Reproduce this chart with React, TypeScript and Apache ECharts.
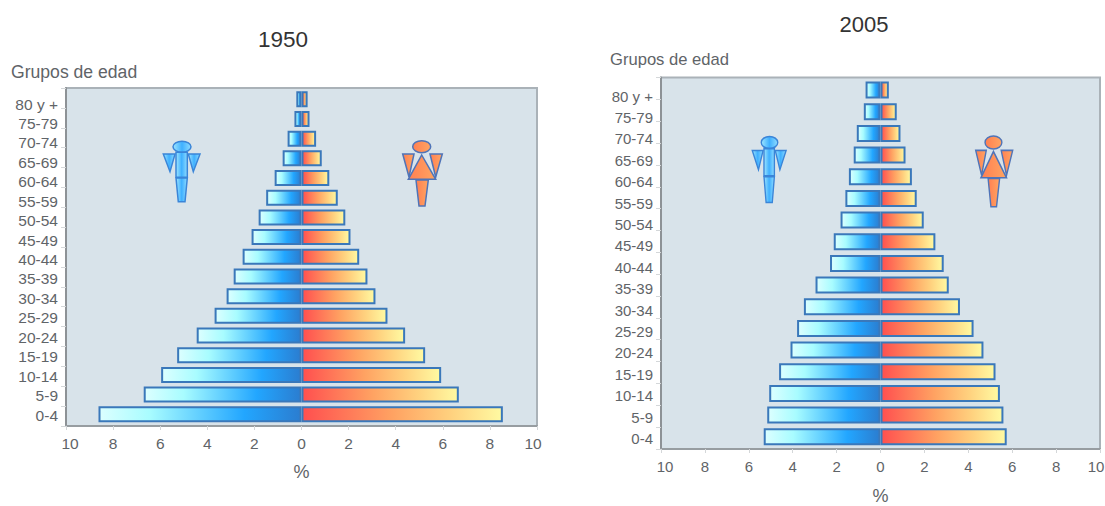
import React, { useEffect, useRef } from "react";
import * as echarts from "echarts";

// Age groups, bottom row first
const ageGroups = ["0-4", "5-9", "10-14", "15-19", "20-24", "25-29", "30-34", "35-39", "40-44", "45-49", "50-54", "55-59", "60-64", "65-69", "70-74", "75-79", "80 y +"];

// Share of population (%) by sex
const male1950 = [8.62, 6.7, 5.96, 5.28, 4.45, 3.69, 3.18, 2.88, 2.5, 2.12, 1.82, 1.5, 1.14, 0.8, 0.59, 0.3, 0.22];
const female1950 = [8.55, 6.68, 5.93, 5.25, 4.4, 3.65, 3.14, 2.8, 2.45, 2.08, 1.86, 1.54, 1.18, 0.86, 0.62, 0.34, 0.26];
const male2005 = [5.32, 5.16, 5.07, 4.62, 4.1, 3.8, 3.49, 2.96, 2.3, 2.13, 1.82, 1.6, 1.44, 1.22, 1.08, 0.76, 0.68];
const female2005 = [5.75, 5.6, 5.44, 5.24, 4.69, 4.24, 3.62, 3.11, 2.88, 2.5, 1.97, 1.65, 1.43, 1.14, 0.91, 0.74, 0.38];

const TEXT = "#5f6468";
const FONT = "Liberation Sans";

const gradient = (stops: [number, string][]) => ({
  type: "linear",
  x: 0,
  y: 0,
  x2: 1,
  y2: 0,
  colorStops: stops.map(([offset, color]) => ({ offset, color })),
});

const maleFill = gradient([[0, "#dcffff"], [0.25, "#a8fcff"], [0.72, "#22a6ff"], [1, "#2b7dd0"]]);
const femaleFill = gradient([[0, "#ff4f4f"], [0.45, "#ffa262"], [0.75, "#ffd27f"], [1, "#fffaa2"]]);
const iconBlue = gradient([[0, "#9fe6ff"], [0.5, "#3fb0ff"], [1, "#8fdcff"]]);
const iconOrange = gradient([[0, "#ff7f52"], [1, "#ffa562"]]);

// Pictogram of a man, drawn in its own local coordinates
const manIcon = (x: number, y: number, scaleX: number, scaleY: number) => {
  const style = { fill: iconBlue, stroke: "#3a85d8", lineWidth: 1.5 };
  return {
    type: "group",
    x,
    y,
    scaleX,
    scaleY,
    silent: true,
    children: [
      { type: "ellipse", shape: { cx: 18.7, cy: 5.7, rx: 9, ry: 5.5 }, style },
      { type: "rect", shape: { x: 12.7, y: 11.3, width: 11.3, height: 25 }, style },
      { type: "polygon", shape: { points: [[0, 13], [11.7, 13], [6.7, 30.7]] }, style },
      { type: "polygon", shape: { points: [[25, 13], [36.7, 13], [30, 30.7]] }, style },
      { type: "polygon", shape: { points: [[12.7, 37], [24, 37], [21.7, 60.7], [15, 60.7]] }, style },
    ],
  };
};

// Pictogram of a woman, drawn in its own local coordinates
const womanIcon = (x: number, y: number, scaleX: number, scaleY: number) => {
  const style = { fill: iconOrange, stroke: "#4f74b8", lineWidth: 1.5 };
  return {
    type: "group",
    x,
    y,
    scaleX,
    scaleY,
    silent: true,
    children: [
      { type: "polygon", shape: { points: [[0, 13.3], [11.3, 13.3], [6.3, 36.3]] }, style },
      { type: "polygon", shape: { points: [[27.3, 13.3], [39.6, 13.3], [33, 36.3]] }, style },
      { type: "polygon", shape: { points: [[19, 14.3], [33, 38.6], [5.6, 38.6]] }, style },
      { type: "polygon", shape: { points: [[13.3, 39.3], [25.6, 39.3], [22.3, 65.3], [16.3, 65.3]] }, style },
      { type: "ellipse", shape: { cx: 19, cy: 6, rx: 9, ry: 6 }, style },
    ],
  };
};

const heading = (text: string, left: number, top: number, fontSize: number, centred: boolean) => ({
  text,
  left,
  top,
  padding: 0,
  textAlign: centred ? "center" : "left",
  textStyle: { fontFamily: FONT, fontSize, fontWeight: "normal", color: centred ? "#333" : TEXT },
});

const hiddenX = (gridIndex: number) => ({ type: "value", gridIndex, min: -10, max: 10, interval: 2, show: false });
const hiddenY = (gridIndex: number) => ({ type: "category", gridIndex, data: ageGroups, show: false });

// Percentage axis along the bottom of a panel
const percentAxis = (gridIndex: number, margin: number, nameGap: number, fontSize: number) => ({
  type: "value",
  gridIndex,
  min: -10,
  max: 10,
  interval: 2,
  name: "%",
  nameLocation: "middle",
  nameGap,
  nameTextStyle: { fontFamily: FONT, fontSize: 18, color: TEXT },
  splitLine: { show: false },
  axisLine: { show: true, onZero: false, lineStyle: { color: "#979da1", width: 2 } },
  axisTick: { show: true, length: 4, lineStyle: { color: "#d4d7d9" } },
  axisLabel: {
    margin,
    fontFamily: FONT,
    fontSize,
    color: TEXT,
    // The outermost labels sit a little inside the plot edges
    formatter: (v: number) => {
      const label = String(Math.abs(v));
      if (v === -10) return `{lo|${label}}`;
      if (v === 10) return `{hi|${label}}`;
      return label;
    },
    rich: {
      lo: { fontFamily: FONT, fontSize, color: TEXT, padding: [0, 0, 0, 8] },
      hi: { fontFamily: FONT, fontSize, color: TEXT, padding: [0, 8, 0, 0] },
    },
  },
});

// Axis line and ticks down the left side of a panel
const frameAxis = (gridIndex: number) => ({
  type: "category",
  gridIndex,
  data: ageGroups,
  axisLine: { show: true, onZero: false, lineStyle: { color: "#8d9296", width: 2 } },
  axisTick: { show: true, length: 5, lineStyle: { color: "#d4d7d9" } },
  axisLabel: { show: false },
  splitLine: { show: false },
});

// Age labels only; this axis runs in a slightly shorter band than the frame
const labelAxis = (gridIndex: number, fontSize: number) => ({
  type: "category",
  gridIndex,
  data: ageGroups,
  axisLine: { show: false, onZero: false },
  axisTick: { show: false },
  axisLabel: { margin: 8, interval: 0, fontFamily: FONT, fontSize, color: TEXT },
  splitLine: { show: false },
});

const barsFor = (axisIndex: number, barWidth: number, males: number[], females: number[]) => {
  const common = {
    type: "bar",
    xAxisIndex: axisIndex,
    yAxisIndex: axisIndex,
    barWidth,
    barGap: "-100%",
    silent: true,
  };
  const edge = { borderColor: "#3a78ba", borderWidth: 2 };
  return [
    { ...common, name: "Hombres", data: males.map((v) => -v), itemStyle: { ...edge, color: maleFill } },
    { ...common, name: "Mujeres", data: females, itemStyle: { ...edge, color: femaleFill } },
  ];
};

export default function App() {
  const ref = useRef<HTMLDivElement>(null);

  useEffect(() => {
    if (!ref.current) return;
    const chart = echarts.init(ref.current, undefined, { renderer: "svg" });
    const fixed = { outerBoundsMode: "none" };
    const panel = { ...fixed, show: true, backgroundColor: "#d8e3ea", borderColor: "#aab2b8", borderWidth: 2 };
    chart.setOption({
      animation: false,
      backgroundColor: "#ffffff",
      title: [
        heading("1950", 283, 28, 22.5, true),
        heading("2005", 864, 13, 22, true),
        heading("Grupos de edad", 11, 63, 17.6, false),
        heading("Grupos de edad", 610, 51, 16.6, false),
      ],
      grid: [
        // 1950: panel, bars, age labels
        { ...panel, left: 66, top: 88, width: 471, height: 338 },
        { ...fixed, left: 66, top: 89.45, width: 471, height: 334.7 },
        { ...fixed, left: 66, top: 94.3, width: 471, height: 330.5 },
        // 2005: panel, bars, age labels
        { ...panel, left: 661, top: 77.5, width: 439, height: 371.5 },
        { ...fixed, left: 661, top: 79.2, width: 439, height: 368.4 },
        { ...fixed, left: 661, top: 85.3, width: 439, height: 363.8 },
      ],
      xAxis: [
        percentAxis(0, 9, 37, 15.5),
        hiddenX(1),
        hiddenX(2),
        percentAxis(3, 10, 38, 15),
        hiddenX(4),
        hiddenX(5),
      ],
      yAxis: [
        frameAxis(0),
        hiddenY(1),
        labelAxis(2, 15.5),
        frameAxis(3),
        hiddenY(4),
        labelAxis(5, 15),
      ],
      series: [
        ...barsFor(1, 16, male1950, female1950),
        ...barsFor(4, 17, male2005, female2005),
      ],
      graphic: [
        manIcon(163.3, 141, 1, 1),
        womanIcon(402.7, 140.7, 1, 1),
        manIcon(752.3, 136.3, 0.92, 1.09),
        womanIcon(975.7, 136, 0.934, 1.083),
      ],
    });
    return () => chart.dispose();
  }, []);

  return <div ref={ref} style={{ position: "absolute", left: 0, top: 0, width: 1105, height: 506 }} />;
}
